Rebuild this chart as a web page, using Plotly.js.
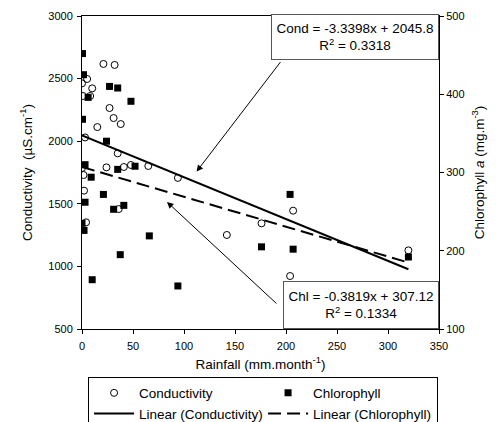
<!DOCTYPE html>
<html>
<head>
<meta charset="utf-8">
<script src="https://cdn.plot.ly/plotly-3.0.1.min.js"></script>
<style>html,body{margin:0;padding:0;background:#fff;}#chart{width:496px;height:422px;}</style>
</head>
<body>
<div id="chart"></div>
<script>
// Conductivity (left axis) vs rainfall
const condRain = [21, 32, 5, 0, 10, 1, 8, 27, 31, 38, 15, 3, 35, 0, 24, 41, 48, 65, 1.5, 94, 2, 36, 4, 142, 176, 207, 204, 320];
const conductivity = [2617, 2609, 2497, 2462, 2422, 2361, 2361, 2265, 2185, 2137, 2113, 2030, 1903, 1786, 1791, 1794, 1810, 1802, 1730, 1707, 1605, 1458, 1352, 1251, 1344, 1445, 923, 1128];
// Chlorophyll a (right axis) vs rainfall
const chlRain = [0.5, 1.5, 0.5, 27, 35, 48, 6, 24, 3, 35, 52, 9, 21, 3, 31, 41, 0, 2, 66, 37.5, 10, 94, 204, 176, 207, 320];
const chlorophyll = [452, 425, 368, 410, 408, 391, 396, 340, 310, 304, 308, 294, 272, 262, 253, 258, 235, 226, 219, 195, 163, 155, 272, 205, 202, 192];
// Regression coefficients
const condSlope = -3.3398, condIntercept = 2045.8, condR2 = 0.3318;
const chlSlope = -0.3819, chlIntercept = 307.12, chlR2 = 0.1334;
const fitX = [Math.min(...condRain), Math.max(...condRain)];

const fam = 'Liberation Sans, Arial, sans-serif';
const fnt = {family: fam, size: 11, color: '#000'};
const big = {family: fam, size: 13.5, color: '#000'};

const traces = [
  {x: condRain, y: conductivity, name: 'Conductivity', type: 'scatter', mode: 'markers', yaxis: 'y',
   marker: {symbol: 'circle-open', size: 7, color: '#000', line: {width: 1, color: '#000'}}},
  {x: chlRain, y: chlorophyll, name: 'Chlorophyll', type: 'scatter', mode: 'markers', yaxis: 'y2',
   marker: {symbol: 'square', size: 7, color: '#000'}},
  {x: fitX, y: fitX.map(v => condSlope * v + condIntercept), name: 'Linear (Conductivity)', type: 'scatter', mode: 'lines', yaxis: 'y',
   line: {color: '#000', width: 2}},
  {x: fitX, y: fitX.map(v => chlSlope * v + chlIntercept), name: 'Linear (Chlorophyll)', type: 'scatter', mode: 'lines', yaxis: 'y2',
   line: {color: '#000', width: 2, dash: '13px,6px'}}
];

const layout = {
  width: 496, height: 422,
  margin: {l: 82, r: 57, t: 16, b: 93, autoexpand: false},
  paper_bgcolor: '#fff', plot_bgcolor: '#fff',
  font: fnt,
  showlegend: true,
  legend: {orientation: 'h', x: 0.017, xanchor: 'left', y: -0.152, yanchor: 'top',
           bordercolor: '#000', borderwidth: 1, entrywidth: 119, entrywidthmode: 'pixels',
           font: big, tracegroupgap: 0, itemwidth: 40, valign: 'middle'},
  xaxis: {range: [0, 350], dtick: 50, tick0: 0, showgrid: false, zeroline: false,
          showline: true, linecolor: '#000', linewidth: 1, mirror: true,
          ticks: 'outside', ticklen: 4, tickcolor: '#000', tickfont: fnt, ticklabelstandoff: 3,
          title: {text: 'Rainfall (mm.month<sup>-1</sup>)', font: big, standoff: 8}},
  yaxis: {range: [500, 3000], dtick: 500, tick0: 500, showgrid: false, zeroline: false,
          showline: true, linecolor: '#000', linewidth: 1,
          ticks: 'outside', ticklen: 4, tickcolor: '#000', tickfont: fnt, ticklabelstandoff: 2,
          title: {text: 'Conductivity  (µS.cm<sup>-1</sup>)', font: big, standoff: 12}},
  yaxis2: {range: [100, 500], dtick: 100, tick0: 100, overlaying: 'y', side: 'right',
           showgrid: false, zeroline: false, showline: true, linecolor: '#000', linewidth: 1,
           ticks: 'outside', ticklen: 4, tickcolor: '#000', tickfont: fnt,
           title: {text: 'Chlorophyll <i>a</i> (mg.m<sup>-3</sup>)', font: big, standoff: 10}},
  annotations: [
    {xref: 'paper', yref: 'paper', x: 1, y: 1, xanchor: 'right', yanchor: 'top', yshift: 2,
     text: 'Cond = ' + condSlope + 'x + ' + condIntercept + '<br>R<sup>2</sup> = ' + condR2,
     showarrow: false, align: 'center', bgcolor: '#fff', bordercolor: '#555', borderwidth: 1, borderpad: 1,
     width: 164, height: 42, font: big},
    {xref: 'paper', yref: 'paper', x: 1, y: 0, xanchor: 'right', yanchor: 'bottom',
     text: 'Chl = ' + chlSlope + 'x + ' + chlIntercept + '<br>R<sup>2</sup> = ' + chlR2,
     showarrow: false, align: 'center', bgcolor: '#fff', bordercolor: '#555', borderwidth: 1, borderpad: 1,
     width: 152, height: 44, font: big},
    {xref: 'paper', yref: 'paper', x: 0.321, y: 0.503, text: '', showarrow: true,
     axref: 'pixel', ayref: 'pixel', ax: 85, ay: -111, arrowhead: 2, arrowsize: 1.3, arrowwidth: 1, arrowcolor: '#000'},
    {xref: 'paper', yref: 'paper', x: 0.238, y: 0.406, text: '', showarrow: true,
     axref: 'pixel', ayref: 'pixel', ax: 111, ay: 103, arrowhead: 2, arrowsize: 1.3, arrowwidth: 1, arrowcolor: '#000'}
  ]
};

Plotly.newPlot('chart', traces, layout, {displayModeBar: false, staticPlot: true});
</script>
</body>
</html>
